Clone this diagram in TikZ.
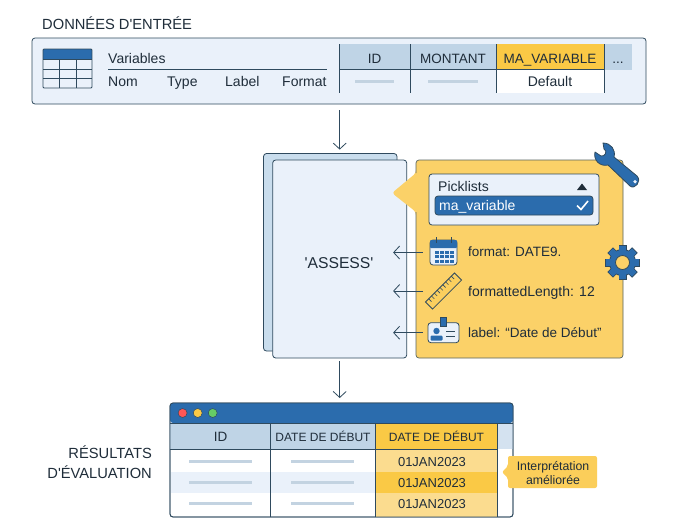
\documentclass[tikz,border=0pt]{standalone}
\usepackage{fontspec}
\setmainfont{Liberation Sans}
\usetikzlibrary{arrows.meta}
\definecolor{ink}{HTML}{1F2D3A}
\definecolor{edge}{HTML}{2F4A5E}
\definecolor{pale}{HTML}{EAF1FA}
\definecolor{back}{HTML}{C9DDED}
\definecolor{head}{HTML}{BFD4E6}
\definecolor{blue}{HTML}{2B6CAD}
\definecolor{gold}{HTML}{FBD168}
\definecolor{amber}{HTML}{FAC945}
\definecolor{sand}{HTML}{FBDC8F}
\definecolor{dash}{HTML}{C3D3E1}
\tikzset{
  flow/.style={->,>={Straight Barb[length=6pt,width=13pt]},draw=edge,line width=.8pt},
  page/.style={draw=edge,line width=.8pt,rounded corners=3pt,inner sep=0pt},
  txt/.style={text=ink,font=\fontsize{14}{16}\selectfont,inner sep=0pt,text height=10pt,text depth=0pt},
  cell/.style={text=ink,font=\fontsize{13.5}{16}\selectfont,inner sep=0pt,text height=10pt,text depth=0pt},
  thead/.style={text=ink,font=\fontsize{12}{14}\selectfont,inner sep=0pt,text height=9pt,text depth=0pt},
  datecell/.style={text=ink,font=\fontsize{13}{16}\selectfont,inner sep=0pt,text height=10pt,text depth=0pt},
  small/.style={text=ink,font=\fontsize{12.3}{14.5}\selectfont,inner sep=0pt,align=center},
  big/.style={text=ink,font=\fontsize{14.7}{20}\selectfont,inner sep=0pt,text height=11pt,text depth=0pt},
  vline/.style={draw=edge,line width=.8pt},
  dashbar/.style={draw=dash,line width=3pt}
}
\begin{document}
\begin{tikzpicture}[x=1pt,y=-1pt]
  \useasboundingbox(0,0) rectangle(674,531);
  \fill[white](0,0) rectangle(674,531);
  \node[big,anchor=west] (inputtitle) at (42,24){DONNÉES D\textquotesingle ENTRÉE};
  \node[page,fill=pale,minimum width=614pt,minimum height=66pt] (input) at (339,71){};
  \fill[blue](43,49) rectangle(92,59);
  \draw[vline,rounded corners=1pt](43,49) rectangle(92,88);
  \draw[vline](43,59)--(92,59);
  \draw[vline](43,69)--(92,69);
  \draw[vline](43,78.5)--(92,78.5);
  \draw[vline](59.5,59)--(59.5,88);
  \draw[vline](76,59)--(76,88);
  \node[txt,anchor=west] (variables) at (108,58){Variables};
  \draw[vline](108,69)--(327,69);
  \node[txt,anchor=west] (nom) at (108,81){Nom};
  \node[txt,anchor=west] (type) at (167,81){Type};
  \node[txt,anchor=west] (label) at (225,81){Label};
  \node[txt,anchor=west] (format) at (282,81){Format};
  \fill[head](339,44) rectangle(496,69.5);
  \fill[amber](496,44) rectangle(604,69.5);
  \fill[head](604,44) rectangle(632,69.5);
  \fill[white](496,69.5) rectangle(604,93);
  \draw[vline](339,69.5)--(604,69.5);
  \draw[vline](339,44)--(339,93);
  \draw[vline](410,44)--(410,93);
  \draw[vline](496,44)--(496,93);
  \draw[vline](604,44)--(604,93);
  \node[cell] (colid) at (374.5,58){ID};
  \node[cell] (colmontant) at (453,58){MONTANT};
  \node[cell] (colmavar) at (550,58){MA\_VARIABLE};
  \node[cell] (colmore) at (618,58){...};
  \node[txt] (coldefault) at (550,81){Default};
  \draw[dashbar](355,81)--(394,81);
  \draw[dashbar](428,81)--(478,81);
  \node[page,fill=back,minimum width=133.5pt,minimum height=197.5pt] (assessback) at (330.25,252.25){};
  \node[page,fill=pale,minimum width=134pt,minimum height=198pt] (assess) at (339.7,259){};
  \node[text=ink,font=\fontsize{15.7}{18}\selectfont,inner sep=0pt] (assesstxt) at (339,263.5){\textquotesingle ASSESS\textquotesingle};
  \draw[flow,shorten <=6pt,shorten >=10pt](input.south -| assess)--(assess.north);
  \fill[gold,rounded corners=3pt](416,160)--(623,160)--(623,358)--(416,358)--(416,212)--(392,193)--(416,173)--cycle;
  \draw[draw=edge!80!gold,line width=.7pt,rounded corners=3pt](416,173)--(416,160)--(623,160)--(623,358)--(416,358)--(416,212);
  \draw[page,fill=pale](429,174) rectangle(599,225);
  \node[txt,anchor=west] (picklists) at (438,186){Picklists};
  \fill[ink](577,190)--(587,190)--(582,183.5)--cycle;
  \draw[page,fill=blue](435,196) rectangle(593,215);
  \node[txt,anchor=west,text=white] (mavariable) at (439,205.5){ma\_variable};
  \draw[white,line width=1.6pt](577,205.5)--(581,209.5)--(588,201);
  \node[page,fill=pale,minimum width=27pt,minimum height=25pt] (calicon) at (443.5,252.5){};
  \fill[blue,rounded corners=1pt](430,240) rectangle(457,248);
  \draw[vline](436,237)--(436,243);
  \draw[vline](451,237)--(451,243);
  \foreach \i in {0,1,2,3}
    \foreach \j in {0,1,2}
      \fill[blue](435+5*\i,250.5+4.5*\j) rectangle(438.5+5*\i,253.5+4.5*\j);
  \node[cell,anchor=west] (fmttxt) at (468,251){format: DATE9.};
  \node[page,rounded corners=0pt,fill=gold!70!amber,rotate=45,minimum width=41pt,minimum height=10pt] (ruler) at (443.5,291){};
  \foreach \d in {-16,-12,...,16}
    \draw[edge,line width=.6pt,shift={(443.5,291)},rotate=45](\d,-5)--(\d,-1);
  \node[txt,anchor=west] (lentxt) at (468,291){formattedLength: 12};
  \node[page,fill=pale,minimum width=31pt,minimum height=20pt] (badge) at (443.5,332.7){};
  \draw[vline,fill=blue](440.5,317) rectangle(446,326);
  \fill[blue](436.5,331) circle(3.2);
  \fill[blue,rounded corners=1pt](430.5,340.5) rectangle(442.5,335.5);
  \draw[vline](446,331)--(455,331);
  \draw[vline](446,336)--(455,336);
  \node[cell,anchor=west] (lbltxt) at (468,332){label: “Date de Début”};
  \draw[flow,shorten <=7pt,shorten >=-14pt](calicon.west)--(calicon.west -| assess.east);
  \draw[flow,shorten <=20.5pt,shorten >=-14pt](ruler.center)--(ruler.center -| assess.east);
  \draw[flow,shorten <=5pt,shorten >=-14pt](badge.west)--(badge.west -| assess.east);
  \draw[vline,fill=blue,line join=round](603,143) .. controls (611,143) and (616,150) .. (614,157)--(637,176) .. controls (642,181) and (635,190) .. (630,186)--(608,165) .. controls (600,167) and (593,160) .. (595,152)--(601,156) .. controls (605,157) and (608,151) .. (604,149)--cycle;
  \fill[pale](635,181.7) circle(1.8);
  \foreach \a in {0,45,...,315}
    \fill[edge,shift={(622.5,262.5)},rotate=\a](-4,-17.5) rectangle(4,-10);
  \fill[edge](622.5,262.5) circle(13.5);
  \foreach \a in {0,45,...,315}
    \fill[blue,shift={(622.5,262.5)},rotate=\a](-3.2,-16.7) rectangle(3.2,-10);
  \fill[blue](622.5,262.5) circle(12.7);
  \draw[vline,fill=gold](622.5,262.5) circle(7);
  \draw[flow,shorten <=3pt,shorten >=5pt](assess.south)--(assess.south |- 0,403);
  \node[page,fill=white,minimum width=343pt,minimum height=114pt] (result) at (341.5,460){};
  \fill[blue,rounded corners=3pt](170,423)--(170,403)--(513,403)--(513,423)--cycle;
  \fill[head](170,423) rectangle(375.7,449);
  \fill[head!50!pale](497,423) rectangle(513,449);
  \fill[amber](375.7,423) rectangle(497,449);
  \fill[pale](170.5,472) rectangle(375.7,493);
  \fill[sand](375.7,449) rectangle(497,472);
  \fill[amber](375.7,472) rectangle(497,493);
  \fill[sand](375.7,493) rectangle(497,516.5);
  \draw[page,fill=none](170,403) rectangle(513,517);
  \draw[vline](170,423)--(513,423);
  \draw[vline](170,449)--(497,449);
  \draw[vline](270.7,423)--(270.7,517);
  \draw[vline](375.7,423)--(375.7,517);
  \draw[vline](497,423)--(497,517);
  \draw[edge,fill=red!55!pink,line width=.5pt](182.6,413) circle(4.5);
  \draw[edge,fill=amber,line width=.5pt](197.7,413) circle(4.5);
  \draw[edge,fill=green!50!gray!80,line width=.5pt](212.7,413) circle(4.5);
  \node[cell] (resid) at (220.5,436.5){ID};
  \node[thead] (resdate) at (323,436.5){DATE DE DÉBUT};
  \node[thead] (resdatenew) at (436.5,437){DATE DE DÉBUT};
  \draw[dashbar](189,461)--(252,461);
  \draw[dashbar](291,461)--(354,461);
  \draw[dashbar](189,482)--(252,482);
  \draw[dashbar](291,482)--(354,482);
  \draw[dashbar](189,503)--(252,503);
  \draw[dashbar](291,503)--(354,503);
  \node[datecell] (dateone) at (432,461){01JAN2023};
  \node[datecell] (datetwo) at (432,482.5){01JAN2023};
  \node[datecell] (datethree) at (432,503){01JAN2023};
  \fill[gold!60!amber,rounded corners=2pt](508,456)--(597,456)--(597,488)--(508,488)--(508,478)--(502,472)--(508,466)--cycle;
  \node[small] (better) at (553,473){Interprétation\\améliorée};
  \node[big,anchor=east] (resultsa) at (152,453){RÉSULTATS};
  \node[big,anchor=east] (resultsb) at (152,473){D\textquotesingle ÉVALUATION};
\end{tikzpicture}
\end{document}
